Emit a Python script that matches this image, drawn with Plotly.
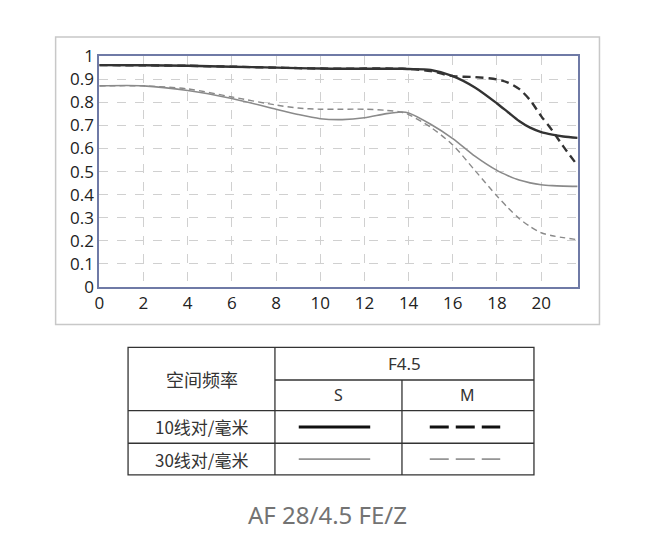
import plotly.graph_objects as go

# ---- data ----
x_pos = [0, 2, 4, 6, 8, 9, 10, 11, 12, 13, 13.7, 14, 15, 16, 17, 18, 18.5, 19, 19.5, 20, 20.5, 21, 21.65]

s10 = [0.961, 0.960, 0.958, 0.954, 0.950, 0.948, 0.946, 0.945, 0.945, 0.945, 0.945, 0.944, 0.940, 0.913, 0.864, 0.795, 0.757, 0.719, 0.690, 0.671, 0.660, 0.652, 0.646]
m10 = [0.961, 0.960, 0.958, 0.954, 0.950, 0.948, 0.946, 0.945, 0.946, 0.946, 0.945, 0.944, 0.935, 0.913, 0.909, 0.899, 0.885, 0.858, 0.809, 0.740, 0.678, 0.609, 0.526]
s30 = [0.871, 0.871, 0.851, 0.816, 0.770, 0.747, 0.729, 0.725, 0.733, 0.751, 0.758, 0.754, 0.705, 0.643, 0.567, 0.505, 0.482, 0.463, 0.451, 0.443, 0.439, 0.437, 0.436]
m30 = [0.871, 0.871, 0.858, 0.823, 0.788, 0.775, 0.770, 0.770, 0.770, 0.765, 0.757, 0.747, 0.692, 0.615, 0.505, 0.394, 0.343, 0.297, 0.262, 0.235, 0.222, 0.214, 0.205]

x_ticks = [0, 2, 4, 6, 8, 10, 12, 14, 16, 18, 20]
y_ticks = [0, 0.1, 0.2, 0.3, 0.4, 0.5, 0.6, 0.7, 0.8, 0.9, 1]
y_tick_text = ["0", "0.1", "0.2", "0.3", "0.4", "0.5", "0.6", "0.7", "0.8", "0.9", "1"]

title_text = "AF 28/4.5 FE/Z"
table_header = "空间频率"
aperture = "F4.5"
col_labels = ["S", "M"]
row_labels = ["10线对/毫米", "30线对/毫米"]

W, H = 660, 552
DARK = "#333333"
GRAY = "#8a8a8a"

def px(x):
    return x / W

def py(y):
    return 1 - y / H

fig = go.Figure()
fig.add_trace(go.Scatter(x=x_pos, y=m30, mode="lines", line=dict(color=GRAY, width=1.4, dash="6px,4px", shape="spline", smoothing=0.8)))
fig.add_trace(go.Scatter(x=x_pos, y=s30, mode="lines", line=dict(color=GRAY, width=1.6, shape="spline", smoothing=0.8)))
fig.add_trace(go.Scatter(x=x_pos, y=m10, mode="lines", line=dict(color=DARK, width=2.4, dash="8px,5px", shape="spline", smoothing=0.8)))
fig.add_trace(go.Scatter(x=x_pos, y=s10, mode="lines", line=dict(color=DARK, width=2.4, shape="spline", smoothing=0.8)))

axis_font = dict(family="Open Sans, Noto Sans, sans-serif", size=17, color="#222222")

fig.update_layout(
    width=W, height=H,
    margin=dict(l=0, r=0, t=0, b=0),
    paper_bgcolor="white", plot_bgcolor="white",
    showlegend=False,
    xaxis=dict(domain=[px(95), px(577)], range=[0, 21.65], tickvals=x_ticks,
               showgrid=True, gridcolor="#d0d0d0", griddash="dash", gridwidth=1,
               showline=True, linecolor="#6f7aa6", linewidth=2, mirror=True,
               ticks="", tickfont=axis_font, zeroline=False, fixedrange=True),
    yaxis=dict(domain=[py(287), py(46)], range=[0, 1], tickvals=y_ticks, ticktext=y_tick_text,
               showgrid=True, gridcolor="#d0d0d0", griddash="dash", gridwidth=1,
               showline=True, linecolor="#6f7aa6", linewidth=2, mirror=True,
               ticks="", tickfont=axis_font, zeroline=False, fixedrange=True),
)

shapes = []
# outer frame around chart
shapes.append(dict(type="rect", xref="paper", yref="paper", x0=px(51), x1=px(599), y0=py(326), y1=py(26),
                   line=dict(color="#c8c8c8", width=1.5), layer="below"))

# table
tl, tr = 124, 533
c1, c2 = 272, 400
r0, r1, r2, r3, r4 = 350, 384, 416, 450, 483
lc = dict(color="#333333", width=1.3)
shapes.append(dict(type="rect", xref="paper", yref="paper", x0=px(tl), x1=px(tr), y0=py(r4), y1=py(r0), line=lc))
shapes.append(dict(type="line", xref="paper", yref="paper", x0=px(c1), x1=px(c1), y0=py(r4), y1=py(r0), line=lc))
shapes.append(dict(type="line", xref="paper", yref="paper", x0=px(c2), x1=px(c2), y0=py(r4), y1=py(r1), line=lc))
shapes.append(dict(type="line", xref="paper", yref="paper", x0=px(c1), x1=px(tr), y0=py(r1), y1=py(r1), line=lc))
shapes.append(dict(type="line", xref="paper", yref="paper", x0=px(tl), x1=px(tr), y0=py(r2), y1=py(r2), line=lc))
shapes.append(dict(type="line", xref="paper", yref="paper", x0=px(tl), x1=px(tr), y0=py(r3), y1=py(r3), line=lc))

# legend samples
ya = (r2 + r3) / 2
yb = (r3 + r4) / 2
shapes.append(dict(type="line", xref="paper", yref="paper", x0=px(296), x1=px(368), y0=py(ya), y1=py(ya), line=dict(color="#111111", width=3)))
shapes.append(dict(type="line", xref="paper", yref="paper", x0=px(428), x1=px(499), y0=py(ya), y1=py(ya), line=dict(color="#111111", width=3, dash="19px,7px")))
shapes.append(dict(type="line", xref="paper", yref="paper", x0=px(296), x1=px(368), y0=py(yb), y1=py(yb), line=dict(color="#444444", width=1)))
shapes.append(dict(type="line", xref="paper", yref="paper", x0=px(428), x1=px(499), y0=py(yb), y1=py(yb), line=dict(color="#444444", width=1, dash="19px,7px")))

fig.update_layout(shapes=shapes)

latin = "Noto Sans, sans-serif"
cjk = "Noto Sans CJK SC, Noto Sans, sans-serif"
ann = []
ann.append(dict(x=px((tl + c1) / 2), y=py((r0 + r2) / 2), text=table_header, font=dict(family=cjk, size=18, color="#333333")))
ann.append(dict(x=px((c1 + tr) / 2), y=py((r0 + r1) / 2), text=aperture, font=dict(family=latin, size=17, color="#333333")))
ann.append(dict(x=px((c1 + c2) / 2), y=py((r1 + r2) / 2), text=col_labels[0], font=dict(family=latin, size=16, color="#333333")))
ann.append(dict(x=px((c2 + tr) / 2), y=py((r1 + r2) / 2), text=col_labels[1], font=dict(family=latin, size=16, color="#333333")))
ann.append(dict(x=px((tl + c1) / 2), y=py(ya), text=row_labels[0], font=dict(family=cjk, size=17, color="#333333")))
ann.append(dict(x=px((tl + c1) / 2), y=py(yb), text=row_labels[1], font=dict(family=cjk, size=17, color="#333333")))
ann.append(dict(x=px(325), y=py(524), text=title_text, font=dict(family=latin, size=24, color="#737373")))
for a in ann:
    a.update(xref="paper", yref="paper", showarrow=False, xanchor="center", yanchor="middle")
fig.update_layout(annotations=ann)

fig.write_html("out.html", config={"displayModeBar": False},
               post_script="document.body.style.margin='0';document.body.style.overflow='hidden';")
